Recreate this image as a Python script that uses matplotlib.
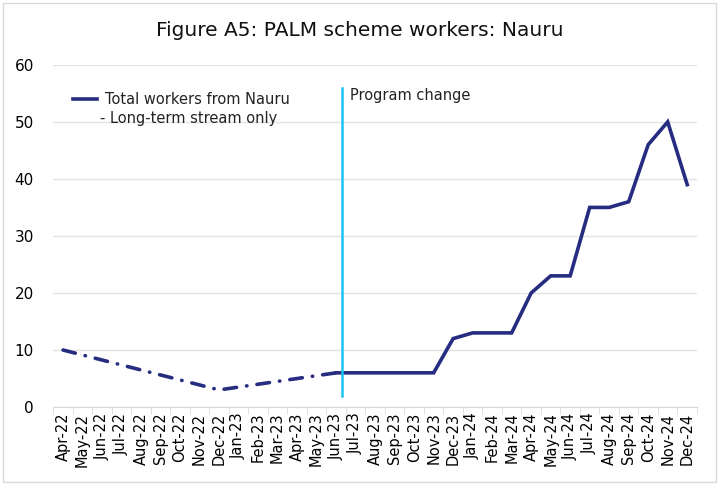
import matplotlib.pyplot as plt
import numpy as np
from matplotlib.patches import Rectangle

months = ['Apr-22', 'May-22', 'Jun-22', 'Jul-22', 'Aug-22', 'Sep-22', 'Oct-22',
          'Nov-22', 'Dec-22', 'Jan-23', 'Feb-23', 'Mar-23', 'Apr-23', 'May-23',
          'Jun-23', 'Jul-23', 'Aug-23', 'Sep-23', 'Oct-23', 'Nov-23', 'Dec-23',
          'Jan-24', 'Feb-24', 'Mar-24', 'Apr-24', 'May-24', 'Jun-24', 'Jul-24',
          'Aug-24', 'Sep-24', 'Oct-24', 'Nov-24', 'Dec-24']

# before the program change only a few months are known (dash-dot)
early_months = ['Apr-22', 'Dec-22', 'Jun-23']
early_workers = [10, 3, 6]

late_months = months[14:]
late_workers = [6, 6, 6, 6, 6, 6, 12, 13, 13, 13, 20, 23, 23, 35, 35, 36, 46, 50, 39]

change_month = 14.3   # position of "Program change" marker
navy = '#262C80'
cyan = '#1CC4F2'

plt.rcParams['font.family'] = ['DejaVu Sans']

fig = plt.figure(figsize=(7.2, 4.84), dpi=100)
ax = fig.add_axes([0.074, 0.159, 0.894, 0.707])

pos = {m: i for i, m in enumerate(months)}
ax.plot([pos[m] for m in early_months], early_workers, color=navy, lw=2.6,
        ls=(0, (3.5, 2.8, 0.1, 2.8)), dash_capstyle='round')
ax.plot([pos[m] for m in late_months], late_workers, color=navy, lw=2.6,
        solid_joinstyle='miter')
ax.plot([change_month, change_month], [2, 56], color=cyan, lw=1.8)
ax.text(change_month + 0.4, 54.7, 'Program change', fontsize=10.5,
        color='#222222', va='center', ha='left')

ax.set_xlim(-0.5, len(months) - 0.5)
ax.set_ylim(0, 60)
ax.set_yticks(np.arange(0, 61, 10))
ax.set_xticks(range(len(months)))
ax.set_xticklabels(months, rotation=90, fontsize=10.5)
ax.set_xticks(np.arange(-0.5, len(months)), minor=True)
ax.tick_params(axis='x', which='major', length=0, pad=4)
ax.tick_params(axis='x', which='minor', length=5, color='#d9d9d9')
ax.tick_params(axis='y', length=0, labelsize=11, pad=14)
ax.grid(axis='y', color='#e3e3e3', lw=1)
ax.set_axisbelow(True)
for s in ['top', 'right', 'left']:
    ax.spines[s].set_visible(False)
ax.spines['bottom'].set_color('#d9d9d9')

# legend, drawn by hand so the line sits next to the first text row
ax.plot([0.03, 0.068], [0.9, 0.9], transform=ax.transAxes, color=navy, lw=2.6)
ax.text(0.08, 0.9, 'Total workers from Nauru', transform=ax.transAxes,
        fontsize=10.5, va='center', color='#222222')
ax.text(0.073, 0.842, '- Long-term stream only', transform=ax.transAxes,
        fontsize=10.5, va='center', color='#222222')

fig.text(0.5, 0.937, 'Figure A5: PALM scheme workers: Nauru', ha='center',
         va='center', fontsize=14.5, color='#111111')
fig.patches.append(Rectangle((0.004, 0.004), 0.99, 0.99, transform=fig.transFigure,
                             fill=False, ec='#d9d9d9', lw=1))

fig.savefig('out.png', dpi=100)
